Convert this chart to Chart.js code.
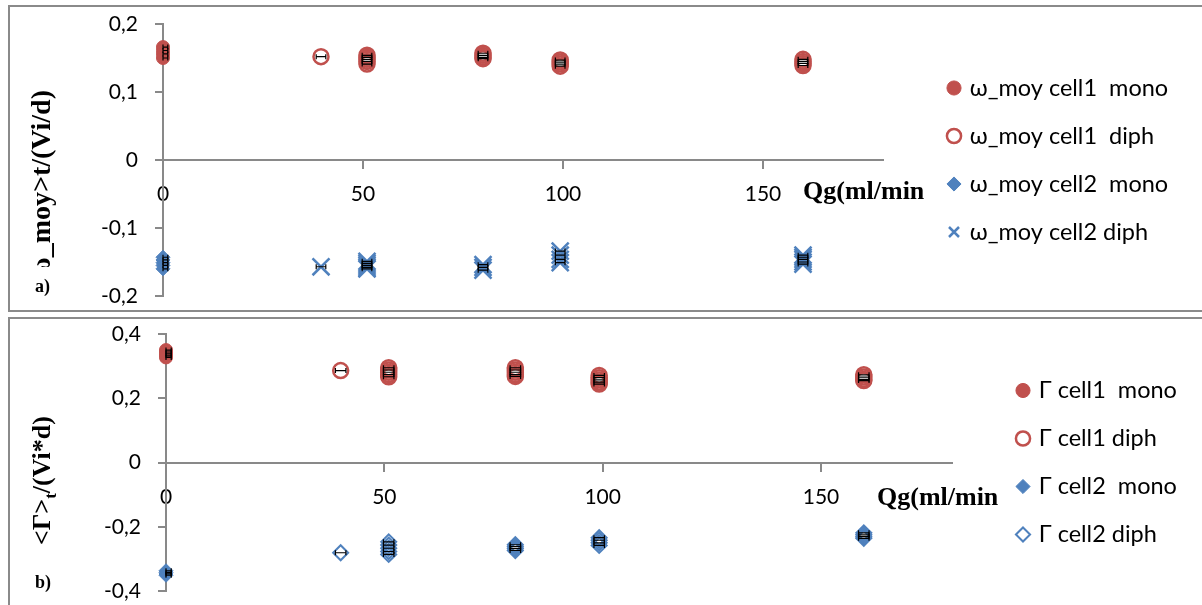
<!DOCTYPE html>
<html>
<head>
<meta charset="utf-8">
<script src="https://cdn.jsdelivr.net/npm/chart.js@4.4.1/dist/chart.umd.min.js"></script>
<style>
body { margin: 0; background: #fff; width: 1202px; height: 605px; overflow: hidden; position: relative; }
.frame { position: absolute; border: 2px solid #8a8a8a; box-sizing: border-box; }
canvas { position: absolute; }
</style>
</head>
<body>
<div class="frame" style="left:8px;top:5px;width:1200px;height:307px"></div>
<div class="frame" style="left:8px;top:317px;width:1200px;height:300px"></div>
<canvas id="chartA" width="1192" height="304" style="left:10px;top:7px"></canvas>
<canvas id="chartB" width="1192" height="286" style="left:10px;top:319px"></canvas>
<script>
// Qg (ml/min) of the diphasic runs
const qgA = [39.5, 51, 80, 99.3, 160];
const qgB = [40, 51, 80, 99.2, 159.8];
const qgErr = 1.2;

const xTicks = [0, 50, 100, 150];
const yTicksA = [-0.2, -0.1, 0, 0.1, 0.2];
const yTicksB = [-0.4, -0.2, 0, 0.2, 0.4];

// a) <omega_moy>t/(Vi/d)
const wCell1Mono = [0.166, 0.161, 0.156, 0.150];
const wCell1Diph = [[0.152], [0.154, 0.151, 0.148, 0.145, 0.141], [0.157, 0.154, 0.151, 0.149], [0.147, 0.144, 0.141, 0.138], [0.148, 0.145, 0.142, 0.139]];
const wCell2Mono = [-0.143, -0.147, -0.151, -0.155, -0.160];
const wCell2Diph = [[-0.157], [-0.149, -0.152, -0.155, -0.158, -0.160], [-0.154, -0.158, -0.162], [-0.134, -0.140, -0.146, -0.151], [-0.140, -0.143, -0.146, -0.150, -0.153]];

// b) <Gamma>t/(Vi*d)
const gCell1Mono = [0.350, 0.344, 0.338, 0.332, 0.327];
const gCell1Diph = [[0.286], [0.295, 0.288, 0.281, 0.274, 0.267], [0.295, 0.288, 0.281, 0.274, 0.268], [0.271, 0.264, 0.257, 0.250, 0.244], [0.273, 0.266, 0.259, 0.255]];
const gCell2Mono = [-0.337, -0.342, -0.347, -0.351];
const gCell2Diph = [[-0.281], [-0.247, -0.257, -0.267, -0.277, -0.286], [-0.256, -0.262, -0.268, -0.274], [-0.234, -0.242, -0.250, -0.258], [-0.219, -0.225, -0.231, -0.236]];

const red = '#C0504D';
const blue = '#4F81BD';
const axisGrey = '#898989';
const serif = '"Liberation Serif", "Times New Roman", serif';

Chart.defaults.font.family = 'Lato';
Chart.defaults.color = '#000';

function mono(vals) {
    return vals.map(v => ({x: 0, y: v}));
}
function diph(qg, groups) {
    return groups.flatMap((g, i) => g.map(v => ({x: qg[i], y: v})));
}

function makeDecor(cfg) {
    return {
        id: 'decor',
        beforeLayout(chart) {
            if (!chart.legend._fixed) {
                const fit = chart.legend.fit;
                chart.legend.fit = function() {
                    fit.call(this);
                    this.width = cfg.legendWidth;
                };
                chart.legend._fixed = true;
            }
        },
        afterLayout(chart) {
            chart.legend.left += cfg.legendShift;
            chart.legend.right += cfg.legendShift;
        },
        afterDatasetsDraw(chart) {
            // horizontal error bars on Qg
            const ctx = chart.ctx, xs = chart.scales.x, ys = chart.scales.y;
            ctx.save();
            ctx.strokeStyle = '#000';
            ctx.lineWidth = 1.2;
            chart.data.datasets.forEach(ds => {
                ds.data.forEach(p => {
                    const x1 = xs.getPixelForValue(Math.max(0, p.x - qgErr));
                    const x2 = xs.getPixelForValue(p.x + qgErr);
                    const y = ys.getPixelForValue(p.y);
                    ctx.beginPath();
                    ctx.moveTo(x1, y); ctx.lineTo(x2, y);
                    ctx.moveTo(x1, y - 2.5); ctx.lineTo(x1, y + 2.5);
                    ctx.moveTo(x2, y - 2.5); ctx.lineTo(x2, y + 2.5);
                    ctx.stroke();
                });
            });
            ctx.restore();
        },
        afterDraw(chart) {
            const ctx = chart.ctx;
            ctx.save();
            ctx.fillStyle = '#000';
            ctx.font = 'bold 26px ' + serif;
            ctx.textAlign = 'left';
            ctx.textBaseline = 'alphabetic';
            ctx.fillText('Qg(ml/min', cfg.qgX, cfg.qgY);
            ctx.restore();
            cfg.drawTitle(ctx);
        }
    };
}

function titleA(ctx) {
    ctx.save();
    ctx.fillStyle = '#000';
    ctx.font = 'bold 28px ' + serif;
    ctx.translate(33, 83);
    ctx.rotate(-Math.PI / 2);
    ctx.textAlign = 'right';
    ctx.textBaseline = 'middle';
    ctx.fillText('<ω_moy>t/(Vi/d)', 0, 0);
    ctx.restore();
    ctx.save();
    ctx.fillStyle = '#fff';
    ctx.fillRect(14, 260, 50, 41);
    ctx.fillStyle = '#000';
    ctx.font = 'bold 18px ' + serif;
    ctx.textAlign = 'left';
    ctx.textBaseline = 'middle';
    ctx.fillText('a)', 25, 280);
    ctx.restore();
}

function titleB(ctx) {
    ctx.save();
    ctx.fillStyle = '#000';
    ctx.translate(33, 226);
    ctx.rotate(-Math.PI / 2);
    ctx.textAlign = 'left';
    ctx.textBaseline = 'middle';
    ctx.font = 'bold 26px ' + serif;
    ctx.fillText('<Γ>', 0, 0);
    let w = ctx.measureText('<Γ>').width;
    ctx.font = 'bold 17px ' + serif;
    ctx.fillText('t', w, 9);
    w += ctx.measureText('t').width;
    ctx.font = 'bold 26px ' + serif;
    ctx.fillText('/(Vi*d)', w, 0);
    ctx.restore();
    ctx.save();
    ctx.fillStyle = '#000';
    ctx.font = 'bold 18px ' + serif;
    ctx.textAlign = 'left';
    ctx.textBaseline = 'middle';
    ctx.fillText('b)', 25, 264);
    ctx.restore();
}

function makeChart(id, cfg) {
    return new Chart(document.getElementById(id), {
        type: 'scatter',
        data: { datasets: cfg.datasets },
        options: {
            responsive: false,
            animation: false,
            events: [],
            layout: { padding: { top: cfg.padTop, bottom: cfg.padBottom, left: 0, right: 0 } },
            scales: {
                x: {
                    type: 'linear',
                    min: 0,
                    max: 180,
                    position: { y: 0 },
                    afterBuildTicks: s => { s.ticks = xTicks.map(v => ({value: v})); },
                    border: { color: axisGrey, width: 2 },
                    grid: { drawOnChartArea: false, tickLength: 8, color: axisGrey, lineWidth: 2 },
                    ticks: { padding: 14, maxRotation: 0, font: { size: 21 } }
                },
                y: {
                    type: 'linear',
                    min: cfg.yTicks[0],
                    max: cfg.yTicks[cfg.yTicks.length - 1],
                    afterFit: s => {
                        s.width = cfg.yWidth;
                        s.paddingTop = 0;
                        s.paddingBottom = 0;
                    },
                    afterBuildTicks: s => { s.ticks = cfg.yTicks.map(v => ({value: v})); },
                    border: { color: axisGrey, width: 2 },
                    grid: { drawOnChartArea: false, tickLength: 8, color: axisGrey, lineWidth: 2 },
                    ticks: {
                        padding: 17,
                        font: { size: 21 },
                        callback: v => v === 0 ? '0' : v.toFixed(1).replace('.', ',')
                    }
                }
            },
            plugins: {
                tooltip: { enabled: false },
                legend: {
                    position: 'right',
                    labels: {
                        usePointStyle: true,
                        boxWidth: 8,
                        boxHeight: 10,
                        padding: 24.5,
                        color: '#000',
                        font: { size: 23.5 }
                    }
                }
            }
        },
        plugins: [makeDecor(cfg)]
    });
}

makeChart('chartA', {
    yTicks: yTicksA, yWidth: 153, padTop: 17, padBottom: 15,
    legendWidth: 319, legendShift: 42.5, qgX: 793, qgY: 192, drawTitle: titleA,
    datasets: [
        { label: 'ω_moy cell1  mono', data: mono(wCell1Mono), pointStyle: 'circle', pointRadius: 6.5,
          backgroundColor: red, borderColor: red, borderWidth: 1, clip: false },
        { label: 'ω_moy cell1  diph', data: diph(qgA, wCell1Diph), pointStyle: 'circle', pointRadius: 7.5,
          backgroundColor: 'rgba(255,255,255,0)', borderColor: red, borderWidth: 2.5, clip: false },
        { label: 'ω_moy cell2  mono', data: mono(wCell2Mono), pointStyle: 'rectRot', pointRadius: 7,
          backgroundColor: blue, borderColor: blue, borderWidth: 1, clip: false },
        { label: 'ω_moy cell2 diph', data: diph(qgA, wCell2Diph), pointStyle: 'crossRot', pointRadius: 12,
          backgroundColor: blue, borderColor: blue, borderWidth: 2.5, clip: false }
    ]
});

makeChart('chartB', {
    yTicks: yTicksB, yWidth: 156, padTop: 15, padBottom: 14,
    legendWidth: 250, legendShift: 42.5, qgX: 867, qgY: 186, drawTitle: titleB,
    datasets: [
        { label: 'Γ cell1  mono', data: mono(gCell1Mono), pointStyle: 'circle', pointRadius: 6.5,
          backgroundColor: red, borderColor: red, borderWidth: 1, clip: false },
        { label: 'Γ cell1 diph', data: diph(qgB, gCell1Diph), pointStyle: 'circle', pointRadius: 7.5,
          backgroundColor: 'rgba(255,255,255,0)', borderColor: red, borderWidth: 2.5, clip: false },
        { label: 'Γ cell2  mono', data: mono(gCell2Mono), pointStyle: 'rectRot', pointRadius: 7,
          backgroundColor: blue, borderColor: blue, borderWidth: 1, clip: false },
        { label: 'Γ cell2 diph', data: diph(qgB, gCell2Diph), pointStyle: 'rectRot', pointRadius: 7.5,
          backgroundColor: 'rgba(255,255,255,0)', borderColor: blue, borderWidth: 2, clip: false }
    ]
});
</script>
</body>
</html>
